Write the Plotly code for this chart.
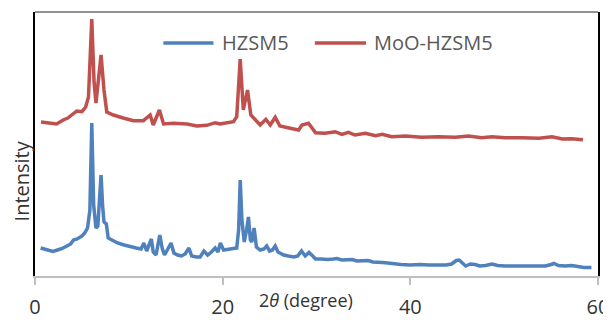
import plotly.graph_objects as go

# 2-theta positions (degree) and intensities (a.u.)
hzsm5_2theta = [0.6, 1.0, 1.5, 1.9, 2.4, 2.9, 3.4, 3.8, 4.1, 4.5, 5.0, 5.3, 5.6, 5.85, 6.05, 6.25, 6.5, 6.7,
                6.9, 7.04, 7.2, 7.35, 7.6, 7.8, 8.2, 8.8, 9.5, 10.2, 10.8, 11.3, 11.6, 11.9, 12.2, 12.4, 12.6,
                12.9, 13.1, 13.3, 13.55, 13.8, 14.1, 14.5, 14.8, 15.2, 15.6, 16.0, 16.4, 16.7, 17.2, 17.6, 18.0,
                18.4, 18.8, 19.2, 19.5, 19.75, 20.1, 20.6, 21.1, 21.5, 21.7, 21.87, 22.05, 22.3, 22.55, 22.75,
                22.95, 23.1, 23.35, 23.6, 24.0, 24.4, 24.7, 25.0, 25.3, 25.6, 25.9, 26.5, 27.0, 27.6, 28.0, 28.4,
                28.8, 29.2, 29.6, 29.9, 30.5, 31.2, 31.8, 32.2, 32.7, 33.3, 33.8, 34.3, 35.0, 35.5, 36.0, 36.5,
                37.0, 37.6, 38.2, 39.0, 40.0, 41.0, 42.0, 43.0, 43.8, 44.4, 44.9, 45.2, 45.5, 45.9, 46.4, 46.9,
                47.4, 48.0, 48.7, 49.3, 50.1, 50.8, 51.5, 52.3, 53.0, 53.7, 54.4, 55.0, 55.3, 55.8, 56.5, 57.2,
                57.8, 58.5, 59.3]
hzsm5_int = [28, 27, 25, 24.5, 26, 27.5, 30, 32, 36, 37, 40, 43, 48, 66, 153, 71, 48, 50,
             81, 101, 71, 54, 52, 38, 36, 33, 31, 29, 28, 27, 33, 25, 31, 37, 24,
             21, 31, 41, 28, 21, 26, 33, 23, 21, 20, 22, 28, 20, 19, 19, 25,
             21, 24, 28, 24, 33, 26, 27, 27.5, 28, 46, 96, 56, 34, 46, 59,
             36, 34, 48, 29, 26, 27, 30, 25, 26, 30, 24, 21, 20, 19, 20, 25,
             20, 23.5, 20, 17, 17, 16.5, 17, 17.5, 16, 16, 16.5, 15, 15, 15.5, 14, 14,
             13.5, 13, 12, 11.5, 11, 11.5, 11, 11, 11, 12, 15.5, 16, 13, 10, 12, 11.5,
             10, 10.5, 12, 10.5, 10, 10, 10.5, 10, 10.5, 10, 10, 11.5, 12.5, 10.5, 10, 10.5,
             9.5, 8.5, 8.5]

moo_2theta = [0.64, 1.6, 2.3, 3.0, 3.5, 3.9, 4.45, 5.0, 5.4, 5.7, 6.05, 6.3, 6.5, 7.04, 7.35, 7.65, 8.35,
              9.4, 10.5, 11.55, 12.27, 12.6, 13.26, 13.7, 14.75, 16.2, 17.25, 18.3, 19.2, 19.7, 21.15, 21.5,
              21.87, 22.2, 22.65, 23.0, 23.5, 24.0, 24.6, 25.07, 25.6, 26.1, 27.2, 28.1, 28.45, 29.15, 29.9,
              30.9, 32.0, 32.7, 33.4, 34.1, 35.2, 36.3, 37.0, 38.0, 39.5, 41.2, 43.0, 44.8, 46.2, 47.6, 48.7,
              50.1, 51.9, 53.7, 55.1, 56.2, 57.2, 58.4]
moo_int = [154, 153.3, 152, 156, 158, 161, 165, 164.3, 169, 179, 257, 193, 173, 221, 186, 164, 161,
           158, 155.3, 155.3, 161, 151, 166, 152, 152.7, 152, 150, 150.7, 153.3, 152, 154.3, 159.3,
           217, 166, 186, 161, 156, 151, 156.7, 151, 158.7, 150, 147.7, 146, 151, 152.7, 143.3,
           142.7, 144.3, 141.7, 143.7, 141, 142.7, 140.3, 141.7, 139.3, 140, 138.7, 139.3, 138.7, 140, 138.3, 139.3,
           138.3, 138.3, 137.7, 139.3, 137, 137.3, 136.3]

x_ticks = [0, 20, 40, 60]
series_names = ["HZSM5", "MoO-HZSM5"]
colors = ["#4F81BD", "#C0504D"]

fig = go.Figure()
fig.add_trace(go.Scatter(x=hzsm5_2theta, y=hzsm5_int, mode="lines", name=series_names[0],
                         line=dict(color=colors[0], width=3.5), showlegend=False))
fig.add_trace(go.Scatter(x=moo_2theta, y=moo_int, mode="lines", name=series_names[1],
                         line=dict(color=colors[1], width=3.5), showlegend=False))

# manual legend (line samples + labels) to match the long sample lines
legend_items = [(0.228, 0.317, 0.328), (0.497, 0.588, 0.598)]
for (x0, x1, xt), name, c in zip(legend_items, series_names, colors):
    fig.add_shape(type="line", xref="paper", yref="paper", x0=x0, x1=x1, y0=0.883, y1=0.883,
                  line=dict(color=c, width=3.5))
    fig.add_annotation(xref="paper", yref="paper", x=xt, y=0.883, text=name, showarrow=False,
                       xanchor="left", yanchor="middle",
                       font=dict(family="Open Sans", size=20, color="#595959"))

# top border
fig.add_shape(type="line", xref="paper", yref="paper", x0=0, x1=1, y0=1, y1=1,
              line=dict(color="#262626", width=1.2))

fig.add_annotation(xref="paper", yref="paper", x=0.481, y=-0.092, text="2<i>θ</i> (degree)",
                   showarrow=False, xanchor="center", yanchor="middle",
                   font=dict(family="Open Sans", size=18, color="#333333"))
fig.add_annotation(xref="paper", yref="paper", x=-0.024, y=0.36, text="Intensity",
                   showarrow=False, textangle=-90, xanchor="center", yanchor="middle",
                   font=dict(family="Open Sans", size=20, color="#333333"))

# the page body adds an 8px offset, so the figure is made 8px smaller
fig.update_layout(
    width=603, height=312,
    margin=dict(l=27, r=13, t=4, b=44, autoexpand=False),
    paper_bgcolor="white", plot_bgcolor="white",
    font=dict(family="Open Sans", color="#333333"),
    xaxis=dict(range=[0, 60], tickvals=x_ticks, ticktext=[str(v) for v in x_ticks],
               showgrid=False, zeroline=False, showline=True, linecolor="#BFBFBF", linewidth=1.5,
               ticks="outside", ticklen=7, tickcolor="#BFBFBF", tickwidth=1.5, automargin=False,
               tickfont=dict(family="Open Sans", size=20, color="#333333"), ticklabelstandoff=5),
    yaxis=dict(range=[0, 264], showticklabels=False, showgrid=False, zeroline=False, automargin=False,
               showline=True, linecolor="#000000", linewidth=1.5, mirror=True, ticks=""),
)

fig.write_html("out.html")
